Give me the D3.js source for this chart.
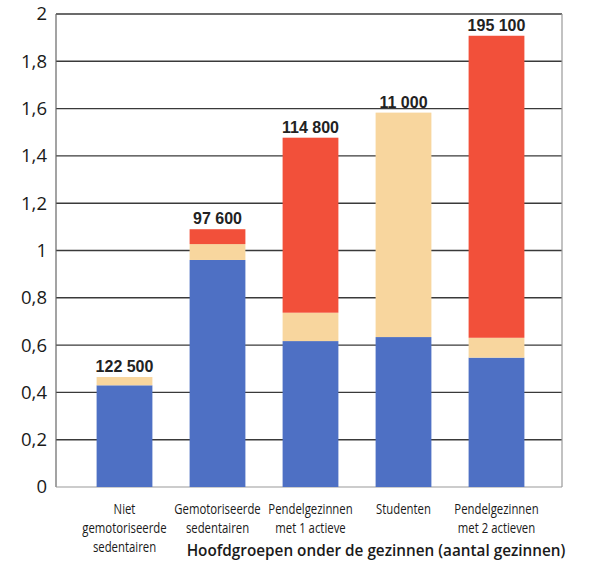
<!DOCTYPE html>
<html><head><meta charset="utf-8">
<script src="https://cdn.jsdelivr.net/npm/d3@7"></script>
<style>body{margin:0;background:#fff}</style>
</head><body>
<svg id="c" width="590" height="562"></svg>
<script>
const categories = [
  ["Niet", "gemotoriseerde", "sedentairen"],
  ["Gemotoriseerde", "sedentairen"],
  ["Pendelgezinnen", "met 1 actieve"],
  ["Studenten"],
  ["Pendelgezinnen", "met 2 actieven"]
];
const blueValues = [0.43, 0.96, 0.617, 0.634, 0.547];
const tanValues  = [0.035, 0.067, 0.12, 0.949, 0.084];
const redValues  = [0, 0.063, 0.74, 0, 1.277];
const countLabels = ["122 500", "97 600", "114 800", "11 000", "195 100"];
const yTicks = [0, 0.2, 0.4, 0.6, 0.8, 1, 1.2, 1.4, 1.6, 1.8, 2];
const xTitle = "Hoofdgroepen onder de gezinnen (aantal gezinnen)";

const colors = {blue: "#4e70c4", tan: "#f8d69e", red: "#f2503a"};
const svg = d3.select("#c");
const L = 56, R = 562, T = 14, B = 487;

const y = d3.scaleLinear().domain([0, 2]).range([B, T]);
const x = d3.scaleBand().domain(d3.range(categories.length)).range([78, 543]).paddingInner(0.4).paddingOuter(0.2);

// grid
svg.append("g").selectAll("line").data(yTicks.slice(1)).join("line")
  .attr("x1", L).attr("x2", R).attr("y1", d => y(d)).attr("y2", d => y(d))
  .attr("stroke", "#3a3a3a").attr("stroke-width", 1.4);
svg.append("line").attr("x1", L).attr("x2", L).attr("y1", T).attr("y2", B).attr("stroke", "#666").attr("stroke-width", 1.2);
svg.append("line").attr("x1", R).attr("x2", R).attr("y1", T).attr("y2", B).attr("stroke", "#999").attr("stroke-width", 1.2);
svg.append("line").attr("x1", L).attr("x2", R).attr("y1", B).attr("y2", B).attr("stroke", "#999").attr("stroke-width", 1.2);

// y axis labels
const yAxis = d3.axisLeft(y).tickValues(yTicks).tickSize(0).tickPadding(9)
  .tickFormat(d => String(d).replace(".", ","));
const ga = svg.append("g").attr("transform", `translate(${L},0)`).call(yAxis);
ga.select(".domain").remove();
ga.selectAll("text").attr("font-family", "Open Sans, sans-serif").attr("font-size", 18.5).attr("fill", "#1a1a1a");

// stacked bars
const rows = categories.map((c, i) => ({i, blue: blueValues[i], tan: tanValues[i], red: redValues[i]}));
const stack = d3.stack().keys(["blue", "tan", "red"])(rows);
svg.append("g").selectAll("g").data(stack).join("g")
  .attr("fill", d => colors[d.key])
  .selectAll("rect").data(d => d).join("rect")
  .attr("x", d => x(d.data.i)).attr("width", x.bandwidth())
  .attr("y", d => y(d[1])).attr("height", d => y(d[0]) - y(d[1]));

// count labels
svg.append("g").selectAll("text").data(rows).join("text")
  .attr("x", d => x(d.i) + x.bandwidth() / 2)
  .attr("y", d => y(d.blue + d.tan + d.red) - 5)
  .attr("text-anchor", "middle").attr("font-family", "Liberation Sans, Arial, sans-serif")
  .attr("font-weight", "bold").attr("font-size", 16).attr("fill", "#222")
  .text(d => countLabels[d.i]);

// category labels (condensed via horizontal scale)
const cg = svg.append("g").selectAll("g").data(categories).join("g")
  .attr("transform", (d, i) => `translate(${x(i) + x.bandwidth() / 2},0) scale(0.8,1)`);
cg.append("text").attr("text-anchor", "middle")
  .attr("font-family", "Open Sans, sans-serif")
  .attr("font-size", 14.2).attr("fill", "#1a1a1a")
  .selectAll("tspan").data(d => d).join("tspan")
  .attr("x", 0)
  .attr("y", (d, j) => 514 + j * 19)
  .text(d => d);

svg.append("text").attr("x", 376).attr("y", 556).attr("text-anchor", "middle")
  .attr("font-family", "Open Sans, sans-serif").attr("font-weight", "600")
  .attr("font-size", 15.3).attr("fill", "#1a1a1a").text(xTitle);
</script>
</body></html>
